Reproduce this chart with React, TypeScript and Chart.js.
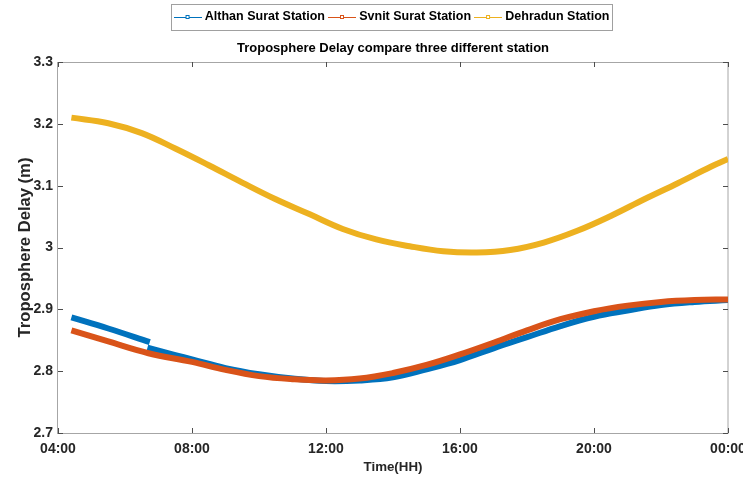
import React, { useEffect, useRef } from 'react';
import { Chart, registerables } from 'chart.js';

Chart.register(...registerables);

// ---------- data ----------
const seriesNames = ['Althan Surat Station', 'Svnit Surat Station', 'Dehradun Station'];
const seriesColors = ['#0072BD', '#D95319', '#EDB120'];

const althanHours = [4.4, 5.5, 6.74, 6.7, 6.67, 7.5, 8, 9, 10, 11, 12, 13, 14, 15, 16, 17, 18, 19, 20, 21, 22, 23, 24];
const althanDelay = [2.887, 2.869, 2.847, null, 2.838, 2.826, 2.819, 2.805, 2.795, 2.788, 2.784, 2.785, 2.790, 2.803, 2.818, 2.837, 2.855, 2.873, 2.888, 2.898, 2.907, 2.912, 2.915];

const svnitHours = [4.4, 5.5, 6.7, 8, 9, 10, 11, 12, 13, 14, 15, 16, 17, 18, 19, 20, 21, 22, 23, 24];
const svnitDelay = [2.866, 2.848, 2.829, 2.815, 2.802, 2.792, 2.787, 2.785, 2.788, 2.797, 2.810, 2.827, 2.846, 2.866, 2.884, 2.897, 2.906, 2.912, 2.915, 2.916];

const dehradunHours = [4.4, 5.5, 6.5, 7.5, 8.5, 9.5, 10.5, 11.5, 12.5, 13.5, 14.5, 15.5, 16.5, 17.5, 18.5, 19.5, 20.5, 21.5, 22.5, 23.5, 24];
const dehradunDelay = [3.210, 3.201, 3.185, 3.160, 3.133, 3.105, 3.078, 3.054, 3.030, 3.013, 3.002, 2.994, 2.992, 2.996, 3.008, 3.027, 3.051, 3.078, 3.104, 3.131, 3.143];

const xTickLabels = ['04:00', '08:00', '12:00', '16:00', '20:00', '00:00'];
const yTickLabels = ['2.7', '2.8', '2.9', '3', '3.1', '3.2', '3.3'];

const chartTitle = 'Troposphere Delay compare three different station';
const xTitle = 'Time(HH)';
const yTitle = 'Troposphere Delay (m)';

// ---------- styling ----------
const SANS = "'Liberation Sans', Arial, sans-serif";

function toPoints(xs: number[], ys: (number | null)[]) {
  return xs.map((x, i) => ({ x, y: ys[i] }));
}

function makeMarker(color: string) {
  const c = document.createElement('canvas');
  c.width = 28;
  c.height = 8;
  const g = c.getContext('2d')!;
  g.strokeStyle = color;
  g.lineWidth = 1;
  g.beginPath();
  g.moveTo(0, 4.5);
  g.lineTo(28, 4.5);
  g.stroke();
  g.fillStyle = '#fff';
  g.fillRect(12, 2, 4, 4);
  g.strokeRect(12.5, 2.5, 3, 3);
  return c;
}

const framePlugin = {
  id: 'frame',
  beforeDatasetsDraw(chart: any) {
    const { ctx, chartArea, scales } = chart;
    const { left, right, top, bottom } = chartArea;
    ctx.save();
    ctx.strokeStyle = '#a6a6a6';
    ctx.lineWidth = 1;
    ctx.strokeRect(Math.round(left) - 0.5, Math.round(top) + 0.5, Math.round(right - left) + 0.5, Math.round(bottom - top));
    ctx.strokeStyle = '#4d4d4d';
    ctx.beginPath();
    const tl = 5;
    scales.x.ticks.forEach((t: any) => {
      const px = Math.round(scales.x.getPixelForValue(t.value)) + 0.5;
      ctx.moveTo(px, bottom);
      ctx.lineTo(px, bottom - tl);
      ctx.moveTo(px, top);
      ctx.lineTo(px, top + tl);
    });
    scales.y.ticks.forEach((t: any) => {
      const py = Math.round(scales.y.getPixelForValue(t.value)) + 0.5;
      ctx.moveTo(left, py);
      ctx.lineTo(left + tl, py);
      ctx.moveTo(right, py);
      ctx.lineTo(right - tl, py);
    });
    ctx.stroke();
    ctx.restore();
  },
};

const legendBoxPlugin = {
  id: 'legendBox',
  afterDraw(chart: any) {
    const lg = chart.legend;
    if (!lg || !lg.legendHitBoxes || !lg.legendHitBoxes.length) return;
    const hb = lg.legendHitBoxes;
    let l = Infinity, r = -Infinity, t = Infinity, b = -Infinity;
    hb.forEach((h: any) => {
      l = Math.min(l, h.left);
      r = Math.max(r, h.left + h.width);
      t = Math.min(t, h.top);
      b = Math.max(b, h.top + h.height);
    });
    const { ctx } = chart;
    ctx.save();
    ctx.strokeStyle = '#a0a0a0';
    ctx.lineWidth = 1;
    const x0 = Math.round(l - 6) + 0.5;
    const y0 = Math.round(t - 6.5) + 0.5;
    const x1 = Math.round(r + 3) + 0.5;
    const y1 = Math.round(b + 7) + 0.5;
    ctx.strokeRect(x0, y0, x1 - x0, y1 - y0);
    ctx.restore();
  },
};

export default function App() {
  const ref = useRef<HTMLCanvasElement>(null);

  useEffect(() => {
    if (!ref.current) return;
    const markers = seriesColors.map(makeMarker);
    const common = {
      borderWidth: 6,
      pointRadius: 0,
      pointHoverRadius: 0,
      fill: false,
      tension: 0.4,
      spanGaps: false,
      borderCapStyle: 'butt' as const,
    };
    const chart = new Chart(ref.current, {
      type: 'line',
      data: {
        datasets: [
          { ...common, label: seriesNames[0], data: toPoints(althanHours, althanDelay) as any, borderColor: seriesColors[0], backgroundColor: seriesColors[0], order: 3 },
          { ...common, label: seriesNames[1], data: toPoints(svnitHours, svnitDelay) as any, borderColor: seriesColors[1], backgroundColor: seriesColors[1], order: 2 },
          { ...common, label: seriesNames[2], data: toPoints(dehradunHours, dehradunDelay) as any, borderColor: seriesColors[2], backgroundColor: seriesColors[2], order: 1 },
        ],
      },
      options: {
        responsive: false,
        animation: false,
        events: [],
        layout: { padding: { top: 4.75, right: 15, left: 0, bottom: 0 } },
        plugins: {
          tooltip: { enabled: false },
          legend: {
            display: true,
            position: 'top',
            fullSize: false,
            weight: 3000,
            labels: {
              usePointStyle: true,
              pointStyleWidth: 22,
              padding: 6,
              color: '#000',
              font: { family: SANS, size: 12.5, weight: 'bold' },
              generateLabels: (ch: any) => {
                const items = Chart.defaults.plugins.legend.labels.generateLabels(ch);
                items.sort((a: any, b: any) => a.datasetIndex - b.datasetIndex);
                items.forEach((it: any) => {
                  it.pointStyle = markers[it.datasetIndex];
                });
                return items;
              },
            },
          } as any,
          title: {
            display: true,
            text: chartTitle,
            fullSize: false,
            weight: 500,
            color: '#000',
            font: { family: SANS, size: 13, weight: 'bold' },
            padding: { top: 6.95, bottom: 6.2 },
          } as any,
        },
        scales: {
          x: {
            type: 'linear',
            min: 4,
            max: 24,
            grid: { display: false, drawTicks: false },
            border: { display: false },
            ticks: {
              stepSize: 4,
              autoSkip: false,
              maxRotation: 0,
              padding: 8,
              color: '#262626',
              font: { family: SANS, size: 14, weight: 'bold' },
              callback: (_v: any, i: number) => xTickLabels[i] ?? '',
            },
            title: {
              display: true,
              text: xTitle,
              color: '#262626',
              font: { family: SANS, size: 13.3, weight: 'bold' },
              padding: { top: 0, bottom: 11 },
            },
            afterFit: (s: any) => {
              s.height = 53;
              s.paddingLeft = 0;
              s.paddingRight = 0;
            },
          },
          y: {
            type: 'linear',
            min: 2.7,
            max: 3.3,
            grid: { display: false, drawTicks: false },
            border: { display: false },
            ticks: {
              stepSize: 0.1,
              autoSkip: false,
              padding: 5,
              color: '#262626',
              font: { family: SANS, size: 14, weight: 'bold' },
              callback: (_v: any, i: number) => yTickLabels[i] ?? '',
            },
            title: {
              display: true,
              text: yTitle,
              color: '#262626',
              font: { family: SANS, size: 16.6, weight: 'bold' },
              padding: { top: 15, bottom: 0 },
            },
            afterFit: (s: any) => {
              s.width = 58;
              s.paddingTop = 0;
              s.paddingBottom = 0;
            },
          },
        },
      },
      plugins: [framePlugin, legendBoxPlugin],
    });
    return () => chart.destroy();
  }, []);

  return (
    <div style={{ position: 'absolute', left: 0, top: 0, width: 743, height: 486, background: '#fff' }}>
      <canvas ref={ref} width={743} height={486} style={{ display: 'block' }} />
    </div>
  );
}
